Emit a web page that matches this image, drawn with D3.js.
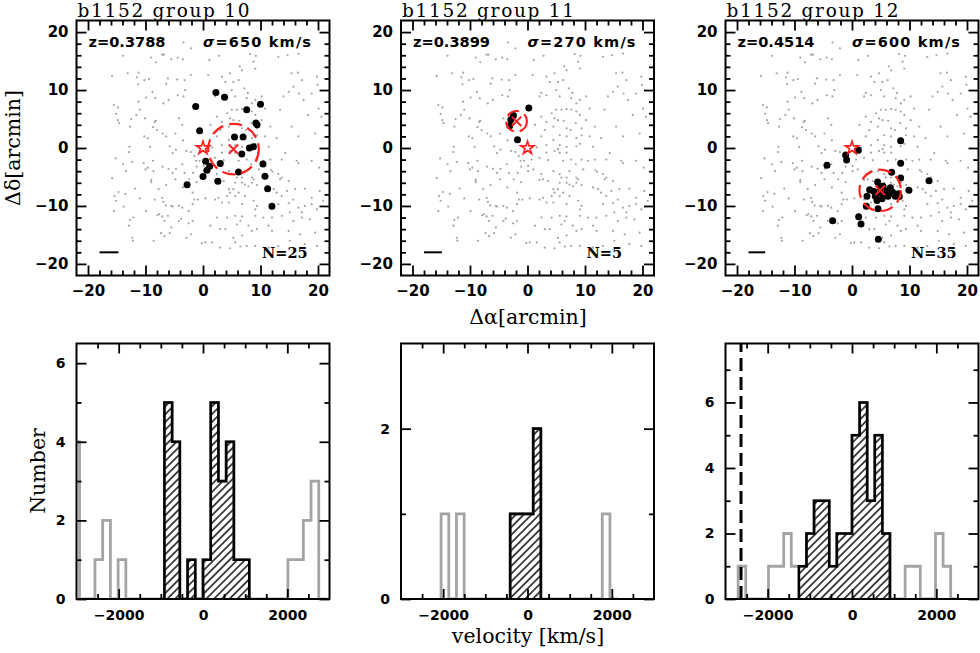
<!DOCTYPE html>
<html>
<head>
<meta charset="utf-8">
<script src="https://cdn.jsdelivr.net/npm/d3@7"></script>
<style>
  body { margin: 0; background: #fff; }
</style>
</head>
<body>
<svg id="fig" width="980" height="653"></svg>
<script>
// ================= DATOS =================
const groups = ["10", "11", "12"];
const redshifts = ["0.3788", "0.3899", "0.4514"];
const sigmas = [650, 270, 600];
const nGal = [25, 5, 35];
const centers = [[5.3, -0.2], [-1.9, 4.6], [4.9, -7.3]];
const radii = [4.4, 1.8, 3.6];
const scaleBars = [3.3, 3.1, 2.9];

// miembros de cada grupo (arcmin)
const members10 = [[2.25, 9.57], [3.75, 8.77], [-1.27, 7.16], [7.6, 6.6], [10.0, 7.56], [9.2, 4.3], [9.4, 4.0],
  [-0.58, 2.98], [5.48, 1.89], [6.97, 1.89], [8.07, 0], [8.76, 0.23], [6.74, -1.03], [0.46, -2.29], [1.15, -3.15],
  [0.69, -3.84], [0, -4.93], [3.0, -2.69], [2.59, -5.73], [6.17, -4.13], [-2.77, -6.36], [10.43, -2.75],
  [10.78, -4.87], [11.24, -7.05], [11.99, -10.03]];
const members11 = [[0.23, 6.9], [-2.44, 5.6], [-2.9, 4.87], [-3.08, 3.84], [-1.74, 1.43]];
const members12 = [[1.1, -0.4], [-1.1, -1.2], [-0.93, -2.06], [-4.35, -2.98], [8.46, 1.26], [8.46, -2.64],
  [6.9, -4.18], [8.46, -5.16], [13.4, -5.67], [9.9, -7.28], [4.46, -5.85], [3.07, -7.22], [5.39, -6.59],
  [6.09, -7.45], [6.67, -7.85], [7.07, -7.62], [5.68, -8.19], [4.93, -7.74], [4.06, -8.31], [4.35, -9.05],
  [5.22, -8.77], [2.61, -8.31], [8.23, -8.37], [8.06, -7.91], [2.49, -10.03], [4.52, -10.49], [1.16, -11.86],
  [-3.36, -12.55], [1.57, -13.12], [4.58, -15.76], [3.77, -7.45], [6.26, -8.31], [7.54, -8.31], [4.93, -6.88],
  [6.67, -6.88]];
const members = [members10, members11, members12];

// galaxias del campo (gris)
const field = [
  [-3.4,18.2],[-2.1,17.2],[-13.9,15.9],[-7.1,16.1],[-6.8,16.1],[-9.0,15.6],[-8.2,14.8],[-5.5,15.3],[-4.4,15.6],[-3.5,15.3],
  [-13.1,12.9],[-11.2,13.0],[-15.8,12.4],[-11.5,12.2],[-10.2,11.7],[-9.4,11.9],[-6.1,12.0],[-6.4,11.1],[-4.5,11.8],[-3.2,11.7],
  [-2.1,12.6],[-3.1,10.0],[-8.8,9.7],[-11.3,11.0],[-9.9,8.7],[-8.3,8.6],[-6.9,7.7],[-6.0,8.3],[-3.4,8.9],[-4.4,9.1],
  [-11.2,8.0],[-15.5,7.4],[-14.8,7.0],[-15.1,5.9],[-11.0,6.6],[-11.6,5.7],[-12.5,5.0],[-14.8,4.8],[-14.6,4.3],[-10.1,5.1],
  [-8.4,4.5],[-8.2,4.7],[-8.7,3.6],[-8.0,3.1],[-12.7,3.7],[-10.2,2.0],[-7.0,2.5],[-6.4,2.0],[-4.8,2.5],[-4.2,5.1],
  [-3.6,4.0],[-12.8,0.2],[-5.8,0.3],[-3.5,1.3],[-9.6,1.7],
  [1.1,15.2],[2.8,15.9],[8.2,16.2],[9.2,15.9],[8.8,14.9],[9.1,13.7],[6.4,14.1],[16.6,16.3],[13.1,15.7],[14.7,16.0],
  [6.8,13.4],[16.5,13.0],[17.2,11.7],[15.4,12.9],[19.9,10.9],[19.8,12.3],[3.3,12.3],[4.7,12.9],[3.9,11.4],[5.3,11.4],
  [6.2,11.7],[0.9,12.6],[2.4,9.5],[2.1,8.9],[3.3,9.1],[5.0,10.0],[5.6,8.9],[7.2,10.3],[7.8,9.5],[7.6,8.6],
  [8.5,7.7],[9.1,8.3],[10.2,8.9],[10.8,6.8],[14.0,8.9],[14.9,9.7],[15.7,10.6],[16.7,9.4],[17.5,8.3],[18.9,9.4],
  [18.3,5.7],[20.1,6.8],[20.6,5.4],[5.0,6.6],[5.9,6.6],[6.8,6.7],[7.6,6.6],[8.5,6.3],[9.1,5.7],[4.2,6.0],
  [4.7,5.1],[5.3,4.8],[6.3,4.7],[2.4,5.4],[1.3,4.0],[3.3,4.5],[4.5,3.7],[6.8,3.4],[7.5,3.1],[8.4,4.3],
  [9.4,3.4],[10.2,4.8],[11.7,3.7],[13.4,6.6],[15.4,3.7],[19.5,2.5],[16.6,2.0],[12.8,1.7],[10.8,2.0],[9.4,2.2],
  [8.5,1.7],[6.8,2.0],[5.6,2.2],[4.5,1.4],[3.0,3.1],[2.4,2.0],[3.3,0.5],[5.6,0.5],[9.1,0.7],[11.4,0.2],[6.8,0.2],
  [-12.9,-0.7],[-9.2,0.2],[-5.3,-0.9],[-4.7,-0.3],[-2.9,-0.5],[-2.1,-0.7],[-1.5,-1.4],[-1.2,-2.2],[-0.6,-2.2],[-15.2,-1.8],
  [-13.9,-2.8],[-12.3,-2.4],[-10.3,-2.6],[-9.6,-3.4],[-10.0,-3.7],[-8.7,-2.2],[-8.6,-4.0],[-7.0,-3.2],[-6.0,-3.6],[-4.7,-3.6],
  [-5.3,-4.3],[-3.6,-2.8],[-3.2,-4.3],[-1.7,-4.3],[-1.1,-3.2],[-15.8,-5.2],[-13.4,-4.0],[-9.0,-5.5],[-9.0,-5.9],[-7.7,-7.1],
  [-6.4,-6.4],[-4.8,-5.4],[-3.5,-6.8],[-2.4,-5.4],[-1.8,-7.7],[-1.1,-5.9],[-0.9,-8.9],[-14.7,-7.6],[-15.4,-8.3],[-13.5,-7.9],
  [-15.1,-9.1],[-11.8,-7.0],[-11.0,-8.7],[-8.4,-8.9],[-6.9,-9.3],[-7.1,-8.6],[-6.5,-9.9],[-5.5,-10.0],[-5.3,-10.1],[-4.2,-10.0],
  [-3.6,-10.3],[-1.8,-9.7],[-1.5,-8.9],[-2.5,-10.9],[-15.5,-10.9],[-13.8,-10.1],[-9.9,-10.9],[-7.9,-11.6],[-7.6,-11.4],[-7.1,-11.8],
  [-6.1,-11.7],[-4.2,-12.6],[-3.8,-12.2],[-2.5,-13.0],[-1.8,-12.6],[-12.1,-12.0],[-12.7,-12.4],[-12.9,-13.4],[-6.7,-12.6],[-5.5,-13.7],
  [-7.3,-14.7],[-6.7,-15.2],[-5.8,-14.7],[-2.9,-15.5],[-2.1,-14.9],[-12.3,-15.5],[-12.2,-16.0],[-8.6,-16.0],[-0.2,-16.4],
  [1.6,0.1],[3.3,-0.8],[4.7,-0.5],[5.3,-0.2],[5.6,-0.8],[6.8,-0.8],[8.5,0.3],[0.7,-2.0],[0.1,-3.1],[2.1,-1.7],
  [3.6,-2.1],[6.2,-2.2],[7.6,-2.0],[8.4,-2.8],[9.4,-2.0],[10.5,-2.2],[11.7,-2.0],[13.7,-2.0],[14.3,-0.9],[16.3,-2.2],
  [16.6,-2.6],[18.9,-2.2],[20.2,-3.4],[21.2,-2.0],[0.1,-4.0],[1.0,-3.7],[2.4,-4.5],[4.5,-4.0],[5.6,-4.5],[5.9,-5.1],
  [6.8,-5.1],[8.5,-5.1],[8.8,-5.4],[7.3,-4.0],[9.7,-3.7],[11.8,-3.8],[12.1,-4.1],[13.4,-5.4],[13.7,-5.1],[14.9,-5.7],
  [13.1,-4.5],[2.1,-5.5],[2.7,-5.4],[3.6,-5.7],[5.6,-6.0],[6.8,-6.0],[7.3,-6.3],[7.9,-6.6],[8.5,-6.0],[9.4,-6.4],
  [11.4,-6.8],[12.3,-7.1],[12.8,-7.7],[13.7,-8.3],[14.6,-7.4],[16.0,-7.1],[17.7,-7.0],[18.9,-8.6],[20.3,-7.4],[20.9,-9.1],
  [4.5,-7.1],[4.7,-7.7],[5.3,-7.1],[6.2,-7.7],[7.3,-8.3],[5.6,-8.3],[4.2,-8.3],[2.1,-8.9],[0.4,-8.7],[2.7,-8.6],
  [3.3,-9.4],[4.5,-9.4],[6.8,-9.7],[8.8,-9.1],[9.4,-10.0],[13.1,-9.7],[14.9,-9.5],[15.7,-8.9],[16.6,-10.3],[17.2,-11.1],
  [17.7,-10.0],[18.9,-9.7],[19.8,-10.6],[2.4,-12.0],[4.2,-12.0],[5.6,-11.7],[6.5,-12.6],[6.8,-11.8],[9.1,-10.6],[9.1,-11.7],
  [10.5,-12.0],[12.0,-12.0],[13.7,-11.7],[15.1,-11.1],[15.7,-12.6],[17.2,-12.0],[18.6,-12.3],[1.3,-13.4],[3.0,-14.0],[3.9,-14.0],
  [5.9,-13.2],[7.9,-13.4],[11.4,-13.4],[14.9,-14.3],[16.9,-14.9],[19.5,-14.6],[5.3,-15.5],[6.8,-15.1],[8.5,-14.3],[9.4,-14.0],
  [12.0,-14.3],[0.4,-16.3],[1.6,-16.3],[3.0,-17.2],[4.7,-17.3],[5.6,-16.3],[6.5,-17.0],[7.6,-16.9],[9.1,-16.9],[11.4,-17.2],
  [13.1,-16.9],[15.1,-16.0],[17.7,-16.6],[19.8,-16.9]
];

// histogramas de velocidad (km/s)
const binWidth = [183, 182, 180];
const binStart = [-3111, -2049, -2700];
const counts10 = [4,0,0,1,2,0,1,0,0,0,0,0,5,4,0,1,0,1,5,3,4,1,1,0,0,0,0,0,1,1,2,3,0];
const counts11 = [1,0,1,0,0,0,0,0,0,1,1,1,2,0,0,0,0,0,0,0,0,1,0];
const counts12 = [1,0,0,0,1,1,2,1,1,2,3,3,1,2,2,5,6,3,5,2,0,0,1,1,0,0,2,1,0];
const counts = [counts10, counts11, counts12];
const memberBins = [[12, 22], [9, 12], [8, 19]];
const histMax = [6.5, 3, 7.8];
const histMajor = [[0, 2, 4, 6], [0, 2], [0, 2, 4, 6]];
const histMinor = [[1, 3, 5], [1], [1, 3, 5, 7]];
const dashedVel = [null, null, -2632];

// ================= LAYOUT =================
const svg = d3.select("#fig");
const panelX = [76.5, 401, 725.5];
const panelW = 253;
const topY = [275.5, 20.5];
const botY = [599, 343.5];
const grayCol = "#a4a4a4";
const red = "#ff2020";

const defs = svg.append("defs");
const pat = defs.append("pattern")
  .attr("id", "hatch")
  .attr("patternUnits", "userSpaceOnUse")
  .attr("width", 5.5).attr("height", 5.5)
  .attr("patternTransform", "rotate(45)");
pat.append("line")
  .attr("x1", 2.75).attr("y1", 0).attr("x2", 2.75).attr("y2", 5.5)
  .attr("stroke", "#000").attr("stroke-width", 1.4);

// ejes estilo PGPLOT: ticks hacia dentro en los 4 lados
function ejes(g, x, y, xMaj, xMin, yMaj, yMin, fs, xPad, yPad, fmt) {
  const [x0, x1] = x.range();
  const [yb, yt] = y.range();
  const estilo = sel => {
    sel.select(".domain").remove();
    sel.selectAll("line").attr("stroke-width", 1.8);
    sel.selectAll("text")
      .attr("font-family", "'DejaVu Sans', sans-serif")
      .attr("font-weight", "bold")
      .attr("font-size", fs)
      .attr("fill", "#000");
  };
  const sides = [
    [d3.axisBottom(x), `translate(0,${yb})`, xMaj, xMin, true, xPad],
    [d3.axisTop(x), `translate(0,${yt})`, xMaj, xMin, false, 0],
    [d3.axisLeft(y), `translate(${x0},0)`, yMaj, yMin, true, yPad],
    [d3.axisRight(y), `translate(${x1},0)`, yMaj, yMin, false, 0]
  ];
  sides.forEach(([ax, tr, maj, min, lab, pad]) => {
    g.append("g").attr("transform", tr)
      .call(ax.tickValues(maj).tickSizeInner(-10).tickSizeOuter(0)
        .tickPadding(pad).tickFormat(lab ? fmt : () => ""))
      .call(estilo);
    g.append("g").attr("transform", tr)
      .call(ax.tickValues(min).tickSizeInner(-5).tickSizeOuter(0).tickFormat(() => ""))
      .call(estilo);
  });
  g.append("rect")
    .attr("x", x0).attr("y", yt)
    .attr("width", x1 - x0).attr("height", yb - yt)
    .attr("fill", "none").attr("stroke", "#000").attr("stroke-width", 2);
}

const fmtInt = d3.format("d");

// ================= PANELES SUPERIORES =================
groups.forEach((grp, i) => {
  const x = d3.scaleLinear().domain([-22, 22]).range([panelX[i], panelX[i] + panelW]);
  const y = d3.scaleLinear().domain([-22, 22]).range(topY);
  const g = svg.append("g");

  defs.append("clipPath").attr("id", "clipT" + i)
    .append("rect").attr("x", panelX[i]).attr("y", topY[1])
    .attr("width", panelW).attr("height", topY[0] - topY[1]);
  const area = g.append("g").attr("clip-path", `url(#clipT${i})`);

  area.selectAll("circle.campo")
    .data(field).enter().append("circle")
    .attr("class", "campo")
    .attr("cx", d => x(d[0])).attr("cy", d => y(d[1]))
    .attr("r", 1.1).attr("fill", grayCol);

  area.selectAll("circle.miembro")
    .data(members[i]).enter().append("circle")
    .attr("class", "miembro")
    .attr("cx", d => x(d[0])).attr("cy", d => y(d[1]))
    .attr("r", 3.5).attr("fill", "#000");

  // círculo discontinuo
  area.append("circle")
    .attr("cx", x(centers[i][0])).attr("cy", y(centers[i][1]))
    .attr("r", x(radii[i]) - x(0))
    .attr("fill", "none").attr("stroke", red).attr("stroke-width", 2.2)
    .attr("stroke-dasharray", "13,6");

  // centro del grupo
  area.append("path")
    .attr("d", d3.symbol(d3.symbolTimes, 60)())
    .attr("transform", `translate(${x(centers[i][0])},${y(centers[i][1])})`)
    .attr("fill", "none").attr("stroke", red).attr("stroke-width", 2);

  // centro del cúmulo (estrella)
  area.append("path")
    .attr("d", d3.symbol(d3.symbolStar, 52)())
    .attr("transform", `translate(${x(0)},${y(0)})`)
    .attr("fill", "#fff").attr("fill-opacity", 0.6)
    .attr("stroke", red).attr("stroke-width", 1.7);

  // barra de escala
  g.append("line")
    .attr("x1", x(-18)).attr("x2", x(-18 + scaleBars[i]))
    .attr("y1", y(-18)).attr("y2", y(-18))
    .attr("stroke", "#000").attr("stroke-width", 2);

  g.append("text")
    .attr("x", panelX[i] + 12).attr("y", 47)
    .attr("font-family", "'DejaVu Sans', sans-serif").attr("font-weight", "bold")
    .attr("font-size", 14.5)
    .attr("textLength", 77).attr("lengthAdjust", "spacingAndGlyphs")
    .text("z=" + redshifts[i]);
  const sg = g.append("text")
    .attr("x", panelX[i] + 126.5).attr("y", 47)
    .attr("font-family", "'DejaVu Sans', sans-serif").attr("font-weight", "bold")
    .attr("font-size", 14.5)
    .attr("textLength", 108).attr("lengthAdjust", "spacing");
  sg.append("tspan").attr("font-style", "italic").text("σ");
  sg.append("tspan").text("=" + sigmas[i] + " km/s");
  g.append("text")
    .attr("x", panelX[i] + 185.5).attr("y", 258)
    .attr("font-family", "'DejaVu Serif', serif").attr("font-weight", "bold")
    .attr("font-size", 14.5)
    .text("N=" + nGal[i]);

  ejes(g, x, y, [-20, -10, 0, 10, 20],
    d3.range(-18, 20, 2).filter(v => v % 10 !== 0),
    [-20, -10, 0, 10, 20],
    d3.range(-18, 20, 2).filter(v => v % 10 !== 0),
    15, 10, 8, fmtInt);

  // título
  svg.append("text")
    .attr("x", panelX[i] + 1).attr("y", 17)
    .attr("font-family", "'DejaVu Serif', serif")
    .attr("font-size", 18.5)
    .attr("textLength", 172).attr("lengthAdjust", "spacing")
    .text("b1152 group " + grp);
});

// ================= HISTOGRAMAS =================
groups.forEach((grp, i) => {
  const x = d3.scaleLinear().domain([-3000, 3000]).range([panelX[i], panelX[i] + panelW]);
  const y = d3.scaleLinear().domain([0, histMax[i]]).range(botY);
  const g = svg.append("g");

  defs.append("clipPath").attr("id", "clipH" + i)
    .append("rect").attr("x", panelX[i]).attr("y", botY[1])
    .attr("width", panelW).attr("height", botY[0] - botY[1]);
  const area = g.append("g").attr("clip-path", `url(#clipH${i})`);

  const w = binWidth[i], s = binStart[i], c = counts[i];
  const pts = [[s, 0]].concat(c.map((v, k) => [s + k * w, v]), [[s + c.length * w, 0]]);
  const linea = d3.line().x(d => x(d[0])).y(d => y(d[1])).curve(d3.curveStepAfter);

  area.append("path")
    .attr("d", linea(pts))
    .attr("fill", "none").attr("stroke", grayCol).attr("stroke-width", 2.8);

  const [a, b] = memberBins[i];
  const mpts = [[s + a * w, 0]]
    .concat(c.slice(a, b + 1).map((v, k) => [s + (a + k) * w, v]), [[s + (b + 1) * w, 0]]);
  const relleno = d3.area().x(d => x(d[0])).y0(y(0)).y1(d => y(d[1])).curve(d3.curveStepAfter);
  area.append("path").attr("d", relleno(mpts)).attr("fill", "url(#hatch)");
  area.append("path")
    .attr("d", linea(mpts))
    .attr("fill", "none").attr("stroke", "#000").attr("stroke-width", 2.6);

  if (dashedVel[i] !== null) {
    area.append("line")
      .attr("x1", x(dashedVel[i])).attr("x2", x(dashedVel[i]))
      .attr("y1", y(0)).attr("y2", y(histMax[i]))
      .attr("stroke", "#000").attr("stroke-width", 3)
      .attr("stroke-dasharray", "13,6");
  }

  ejes(g, x, y, [-2000, 0, 2000],
    d3.range(-2500, 3000, 500).filter(v => v % 2000 !== 0),
    histMajor[i], histMinor[i], 14, 11, 11, fmtInt);
});

// ================= ETIQUETAS DE EJES =================
const serif = "'DejaVu Serif', serif";
svg.append("text")
  .attr("transform", "translate(20,148) rotate(-90)")
  .attr("text-anchor", "middle")
  .attr("font-family", serif).attr("font-size", 20.5)
  .text("Δδ[arcmin]");
svg.append("text")
  .attr("x", 528).attr("y", 324)
  .attr("text-anchor", "middle")
  .attr("font-family", serif).attr("font-size", 20.5)
  .text("Δα[arcmin]");
svg.append("text")
  .attr("transform", "translate(45,471) rotate(-90)")
  .attr("text-anchor", "middle")
  .attr("font-family", serif).attr("font-size", 20.5)
  .text("Number");
svg.append("text")
  .attr("x", 528).attr("y", 643)
  .attr("text-anchor", "middle")
  .attr("font-family", serif).attr("font-size", 20.5)
  .text("velocity [km/s]");
</script>
</body>
</html>
